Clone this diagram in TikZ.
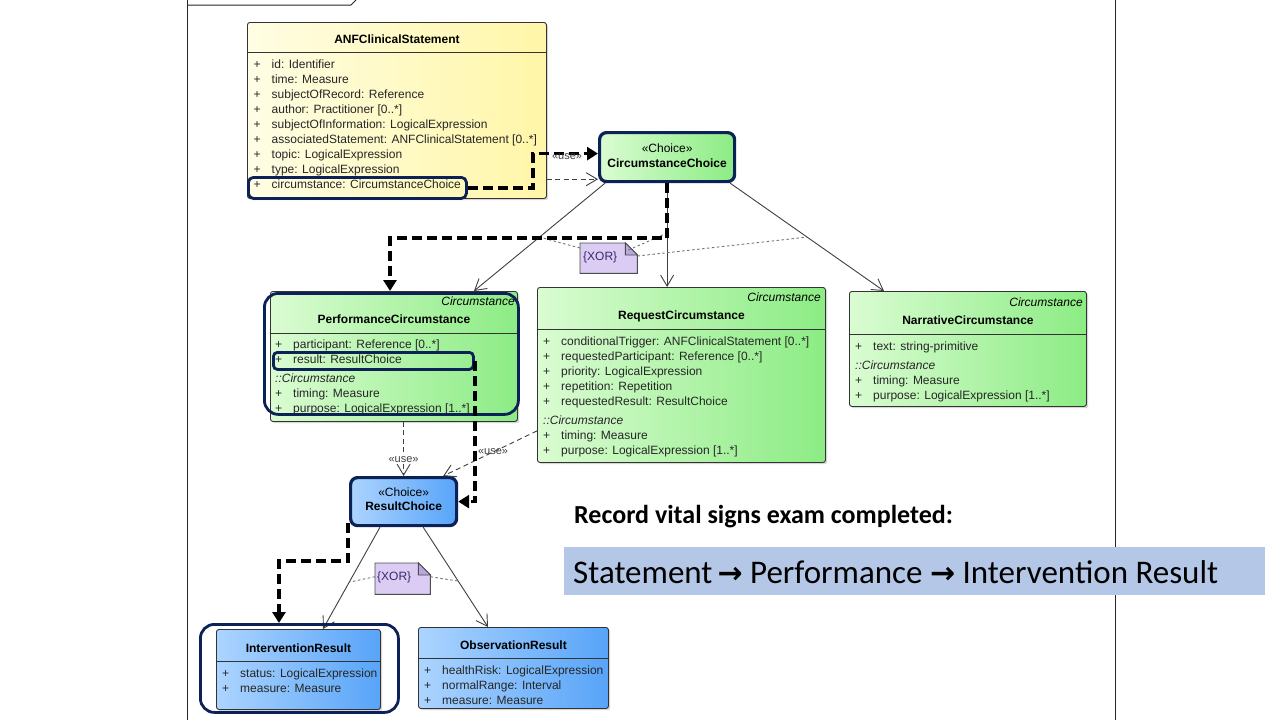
\documentclass[tikz,border=0pt]{standalone}
\usepackage{fontspec}
\setmainfont{Liberation Sans}
\newfontfamily\calibri{Carlito}
\newfontfamily\djv{DejaVu Sans}
\usetikzlibrary{arrows.meta}
\definecolor{navy}{RGB}{12,34,86}
\definecolor{Yone}{RGB}{255,253,228}
\definecolor{Ytwo}{RGB}{255,246,168}
\definecolor{Gone}{RGB}{218,252,210}
\definecolor{Gtwo}{RGB}{140,236,132}
\definecolor{Bone}{RGB}{172,212,255}
\definecolor{Btwo}{RGB}{88,164,248}
\definecolor{notefill}{RGB}{218,204,242}
\definecolor{notefold}{RGB}{186,166,224}
\definecolor{notetext}{RGB}{60,40,110}
\definecolor{barblue}{RGB}{180,199,231}
\tikzset{
  clsbox/.style={draw=black!80, line width=0.9pt, rounded corners=2.5pt, anchor=north west, inner sep=0pt},
  shade/.style={fill=black!16, rounded corners=2.5pt, anchor=north west, inner sep=0pt},
  yel/.style={left color=Yone, right color=Ytwo},
  grn/.style={left color=Gone, right color=Gtwo},
  blu/.style={left color=Bone, right color=Btwo},
  choicebox/.style={draw=navy, line width=3.2pt, rounded corners=7pt, anchor=north west, inner sep=0pt},
  hlbox/.style={draw=navy, line width=2.8pt, rounded corners=#1, anchor=north west, inner sep=0pt},
  hlbox/.default=5pt,
  ctitle/.style={font=\fontsize{12}{14}\selectfont\bfseries, inner sep=0pt},
  cstereo/.style={font=\fontsize{12}{14}\selectfont, inner sep=0pt},
  attrs/.style={font=\fontsize{12}{15}\selectfont, text=black!85, anchor=north west, inner sep=0pt},
  abstr/.style={font=\fontsize{12}{14}\selectfont\itshape, inner sep=0pt, anchor=east},
  sepline/.style={draw=black!80, line width=0.9pt},
  gen/.style={draw=black!75, line width=0.9pt, -{Straight Barb[length=11pt,width=13pt]}},
  dep/.style={draw=black!75, line width=0.9pt, dash pattern=on 5pt off 3.5pt, -{Straight Barb[length=11pt,width=13pt]}},
  trace/.style={draw=black, line width=3.5pt, dash pattern=on 10pt off 5pt, -{Triangle[length=11pt,width=13pt]}},
  xorline/.style={draw=black!55, line width=0.9pt, dash pattern=on 2.5pt off 2.5pt},
  uselbl/.style={font=\fontsize{11}{12}\selectfont, text=black!75, inner sep=0pt},
  notebox/.style={anchor=north west, inner sep=0pt},
  notelbl/.style={font=\fontsize{12}{14}\selectfont, text=notetext, inner sep=0pt, anchor=west},
  framel/.style={draw=black!85, line width=1pt},
}
\begin{document}
\begin{tikzpicture}[x=1pt,y=-1pt]
\useasboundingbox (0,0) rectangle (1280,720);
\fill[white] (0,0) rectangle (1280,720);

% frame
\draw[framel] (187,0) -- (187,720);
\draw[framel] (1115,0) -- (1115,720);
\draw[framel] (187,5) -- (351,5) -- (356,0);

% ---------- shadows ----------
\node[shade, minimum width=299pt, minimum height=176pt] (anfs) at (249,24) {};
\node[shade, minimum width=247pt, minimum height=130pt] (perfs) at (272,293) {};
\node[shade, minimum width=288pt, minimum height=175pt] (reqs) at (539,289) {};
\node[shade, minimum width=237pt, minimum height=115pt] (narrs) at (851,293) {};
\node[shade, minimum width=164pt, minimum height=80pt] (irs) at (218,631) {};
\node[shade, minimum width=190pt, minimum height=81pt] (ors) at (420,629) {};

% ---------- ANFClinicalStatement ----------
\node[clsbox, yel, minimum width=299pt, minimum height=176pt] (anf) at (247,22) {};
\node[ctitle] (anft) at ([yshift=-17pt]anf.north) {ANFClinicalStatement};
\draw[sepline] ([yshift=-30pt]anf.north west) -- ([yshift=-30pt]anf.north east);
\node[attrs] (anfa) at ([shift={(6.5pt,-35.5pt)}]anf.north west) {%
\begin{tabular}{@{}l@{\hspace{11pt}}l@{}}
+ & id: Identifier\\
+ & time: Measure\\
+ & subjectOfRecord: Reference\\
+ & author: Practitioner [0..*]\\
+ & subjectOfInformation: LogicalExpression\\
+ & associatedStatement: ANFClinicalStatement [0..*]\\
+ & topic: LogicalExpression\\
+ & type: LogicalExpression\\
+ & circumstance: CircumstanceChoice
\end{tabular}};

% ---------- CircumstanceChoice ----------
\node[choicebox, grn, minimum width=135pt, minimum height=49pt] (cc) at (598,131) {};
\node[cstereo] (cct1) at ([yshift=8.5pt]cc.center) {«Choice»};
\node[ctitle] (cct2) at ([yshift=-6.5pt]cc.center) {CircumstanceChoice};

% ---------- PerformanceCircumstance ----------
\node[clsbox, grn, minimum width=247pt, minimum height=130pt] (perf) at (270,291) {};
\node[abstr] (perfs1) at ([shift={(-3pt,-10pt)}]perf.north east) {Circumstance};
\node[ctitle] (perft) at ([yshift=-28pt]perf.north) {PerformanceCircumstance};
\draw[sepline] ([yshift=-42pt]perf.north west) -- ([yshift=-42pt]perf.north east);
\node[attrs] (perfa) at ([shift={(5pt,-46.5pt)}]perf.north west) {%
\begin{tabular}{@{}l@{\hspace{11pt}}l@{}}
+ & participant: Reference [0..*]\\
+ & result: ResultChoice\\[4pt]
\multicolumn{2}{@{}l@{}}{\itshape ::Circumstance}\\
+ & timing: Measure\\
+ & purpose: LogicalExpression [1..*]
\end{tabular}};

% ---------- RequestCircumstance ----------
\node[clsbox, grn, minimum width=288pt, minimum height=175pt] (req) at (537,287) {};
\node[abstr] (reqs1) at ([shift={(-5pt,-10pt)}]req.north east) {Circumstance};
\node[ctitle] (reqt) at ([yshift=-29pt]req.north) {RequestCircumstance};
\draw[sepline] ([yshift=-42pt]req.north west) -- ([yshift=-42pt]req.north east);
\node[attrs] (reqa) at ([shift={(6pt,-47.5pt)}]req.north west) {%
\begin{tabular}{@{}l@{\hspace{11pt}}l@{}}
+ & conditionalTrigger: ANFClinicalStatement [0..*]\\
+ & requestedParticipant: Reference [0..*]\\
+ & priority: LogicalExpression\\
+ & repetition: Repetition\\
+ & requestedResult: ResultChoice\\[4pt]
\multicolumn{2}{@{}l@{}}{\itshape ::Circumstance}\\
+ & timing: Measure\\
+ & purpose: LogicalExpression [1..*]
\end{tabular}};

% ---------- NarrativeCircumstance ----------
\node[clsbox, grn, minimum width=237pt, minimum height=115pt] (narr) at (849,291) {};
\node[abstr] (narrs1) at ([shift={(-4pt,-11pt)}]narr.north east) {Circumstance};
\node[ctitle] (narrt) at ([yshift=-29pt]narr.north) {NarrativeCircumstance};
\draw[sepline] ([yshift=-43pt]narr.north west) -- ([yshift=-43pt]narr.north east);
\node[attrs] (narra) at ([shift={(6pt,-48.5pt)}]narr.north west) {%
\begin{tabular}{@{}l@{\hspace{11pt}}l@{}}
+ & text: string-primitive\\[4pt]
\multicolumn{2}{@{}l@{}}{\itshape ::Circumstance}\\
+ & timing: Measure\\
+ & purpose: LogicalExpression [1..*]
\end{tabular}};

% ---------- ResultChoice ----------
\node[choicebox, blu, minimum width=106pt, minimum height=48pt] (rc) at (349,476) {};
\node[cstereo] (rct1) at ([yshift=9pt]rc.center) {«Choice»};
\node[ctitle] (rct2) at ([yshift=-5pt]rc.center) {ResultChoice};

% ---------- InterventionResult ----------
\node[clsbox, blu, minimum width=164pt, minimum height=80pt] (ir) at (216,629) {};
\node[ctitle] (irt) at ([yshift=-19pt]ir.north) {InterventionResult};
\draw[sepline] ([yshift=-32pt]ir.north west) -- ([yshift=-32pt]ir.north east);
\node[attrs] (ira) at ([shift={(6pt,-37.5pt)}]ir.north west) {%
\begin{tabular}{@{}l@{\hspace{11pt}}l@{}}
+ & status: LogicalExpression\\
+ & measure: Measure
\end{tabular}};

% ---------- ObservationResult ----------
\node[clsbox, blu, minimum width=190pt, minimum height=81pt] (or) at (418,627) {};
\node[ctitle] (ort) at ([yshift=-18pt]or.north) {ObservationResult};
\draw[sepline] ([yshift=-31pt]or.north west) -- ([yshift=-31pt]or.north east);
\node[attrs] (ora) at ([shift={(6pt,-36.5pt)}]or.north west) {%
\begin{tabular}{@{}l@{\hspace{11pt}}l@{}}
+ & healthRisk: LogicalExpression\\
+ & normalRange: Interval\\
+ & measure: Measure
\end{tabular}};

% ---------- XOR notes ----------
\node[notebox, minimum width=57pt, minimum height=30pt] (xor1) at (580,243) {};
\path[fill=notefill, draw=black!70, line width=0.9pt] (xor1.north west) -- ([xshift=-12pt]xor1.north east) -- ([yshift=-12pt]xor1.north east) -- (xor1.south east) -- (xor1.south west) -- cycle;
\path[fill=notefold, draw=black!70, line width=0.9pt] ([xshift=-12pt]xor1.north east) -- ([xshift=-12pt,yshift=-12pt]xor1.north east) -- ([yshift=-12pt]xor1.north east) -- cycle;
\node[notelbl] (xor1t) at ([shift={(3pt,1pt)}]xor1.west) {\{XOR\}};

\node[notebox, minimum width=55pt, minimum height=31pt] (xor2) at (375,563) {};
\path[fill=notefill, draw=black!70, line width=0.9pt] (xor2.north west) -- ([xshift=-12pt]xor2.north east) -- ([yshift=-12pt]xor2.north east) -- (xor2.south east) -- (xor2.south west) -- cycle;
\path[fill=notefold, draw=black!70, line width=0.9pt] ([xshift=-12pt]xor2.north east) -- ([xshift=-12pt,yshift=-12pt]xor2.north east) -- ([yshift=-12pt]xor2.north east) -- cycle;
\node[notelbl] (xor2t) at ([shift={(2pt,1pt)}]xor2.west) {\{XOR\}};

% ---------- generalizations ----------
\draw[gen] ([xshift=7pt]cc.south west) -- ([xshift=204pt]perf.north west) coordinate[pos=0.5] (g1m);
\draw[gen] (cc.south) -- (cc.south |- req.north) coordinate[pos=0.48] (g2m);
\draw[gen] ([xshift=-6pt]cc.south east) -- ([xshift=35pt]narr.north west) coordinate[pos=0.5] (g3m);
\draw[gen] ([xshift=31pt]rc.south west) -- ([xshift=107pt]ir.north west) coordinate[pos=0.54] (g4m);
\draw[gen] ([xshift=-35pt]rc.south east) -- ([xshift=70pt]or.north west) coordinate[pos=0.54] (g5m);

% xor constraint lines
\draw[xorline] ([yshift=-5pt]xor1.north west) -- (g1m);
\draw[xorline] ([shift={(-9pt,-7pt)}]xor1.north east) -- (g2m);
\draw[xorline] ([yshift=-13pt]xor1.north east) -- (g3m);
\draw[xorline] ([yshift=2pt]xor2.west) -- (g4m);
\draw[xorline] ([yshift=2pt]xor2.east) -- (g5m);

% ---------- dependencies ----------
\draw[dep] ([yshift=4pt]cc.south west -| anf.east) -- ([yshift=4pt]cc.south west);
\draw[dep] (rc.north |- perf.south) -- (rc.north) node[uselbl, pos=0.7, fill=white, inner sep=1pt] (u2) {«use»};
\draw[dep] ([yshift=32pt]req.south west) -- ([xshift=-15pt]rc.north east);
\node[uselbl] (u3) at (493,452) {«use»};

% ---------- highlight boxes ----------
\node[hlbox, minimum width=218pt, minimum height=21pt] (hlc) at (247,176) {};
\node[hlbox=14pt, minimum width=254pt, minimum height=121pt] (hlperf) at (263,292) {};
\node[hlbox=4pt, minimum width=200pt, minimum height=17pt] (hlr) at (272,351) {};
\node[hlbox=14pt, minimum width=198pt, minimum height=88pt] (hlir) at (199,623) {};

% ---------- trace path (thick dashed) ----------
\draw[trace] (hlc.east) -- ++(65,0) |- ([yshift=3.5pt]cc.west);
\node[uselbl] (u1) at (567,157) {«use»};
\draw[trace] (cc.south) -- ++(0,55) -| ([xshift=120pt]perf.north west);
\draw[trace] (hlr.east) |- (rc.east);
\draw[trace] ([shift={(-1pt,4pt)}]rc.south west) -- ++(0,38) -| ([xshift=80pt]hlir.north west);

% ---------- caption ----------
\node[font=\calibri\bfseries\fontsize{26}{30}\selectfont, anchor=west, inner sep=0pt] (rec) at (574,517) {Record vital signs exam completed:};
\node[fill=barblue, minimum width=701pt, minimum height=48pt, anchor=north west, inner sep=0pt] (bar) at (564,547) {};
\node[font=\calibri\fontsize{33}{36}\selectfont, anchor=west, inner sep=0pt] (pathtxt) at (573,572) {Statement{\djv\bfseries\fontsize{30}{34}\selectfont\,→} Performance {\djv\bfseries\fontsize{30}{34}\selectfont →} Intervention Result};
\end{tikzpicture}
\end{document}
